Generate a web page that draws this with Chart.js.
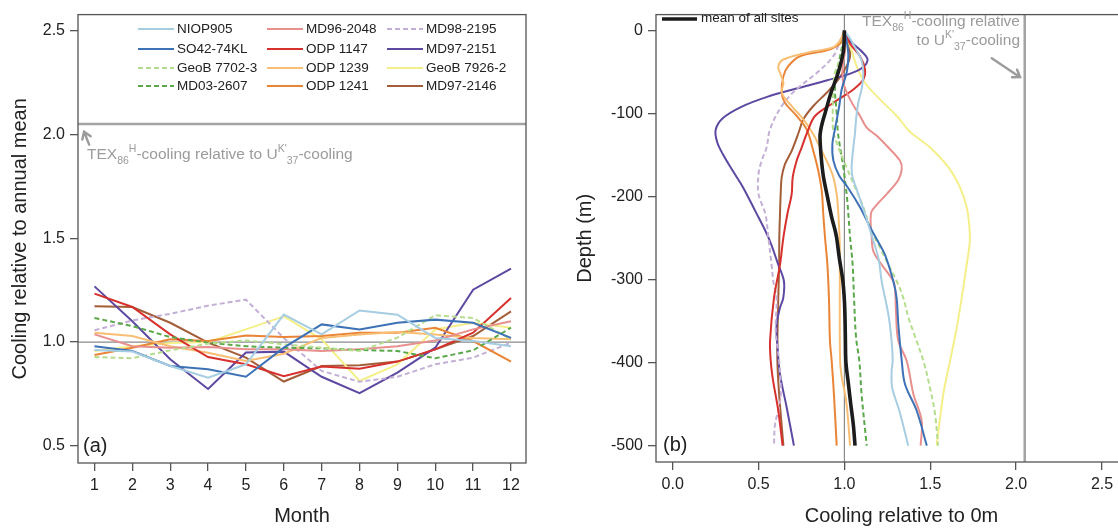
<!DOCTYPE html>
<html>
<head>
<meta charset="utf-8">
<script src="https://cdn.jsdelivr.net/npm/chart.js@4.4.1/dist/chart.umd.min.js"></script>
<style>
html, body { margin: 0; padding: 0; width: 1118px; height: 528px; overflow: hidden; background: #fff;
  font-family: "Liberation Sans", Arial, Helvetica, sans-serif; }
canvas { position: absolute; top: 0; }
#graficoA { left: 0; }
#graficoB { left: 560px; }
.txt { position: absolute; white-space: nowrap; color: #222; }
.ley { font-size: 13.5px; line-height: 16px; }
.gris { color: #9b9b9b; font-size: 15.5px; line-height: 18px; }
.sb { position: relative; font-size: 10.5px; top: 5px; }
.sp { position: relative; font-size: 10.5px; top: -7px; }
.panel { font-size: 20px; line-height: 23px; }
svg.muestra { position: absolute; }
</style>
</head>
<body>
<canvas id="graficoA" width="560" height="528"></canvas>
<canvas id="graficoB" width="590" height="528"></canvas>
<div id="capas"></div>
<script>
// Datos: (a) enfriamiento mensual, (b) perfiles en profundidad

const meses = [1, 2, 3, 4, 5, 6, 7, 8, 9, 10, 11, 12];
const marcasYA = [0.5, 1.0, 1.5, 2.0, 2.5];
const marcasXB = [0.0, 0.5, 1.0, 1.5, 2.0, 2.5];
const marcasYB = [0, -100, -200, -300, -400, -500];
const lineaUnidad = 1.0;
const lineaTex86 = 2.05;

// nombres de sitios (orden de la leyenda, por columnas)
const sitios = ['NIOP905', 'SO42-74KL', 'GeoB 7702-3', 'MD03-2607',
                'MD96-2048', 'ODP 1147', 'ODP 1239', 'ODP 1241',
                'MD98-2195', 'MD97-2151', 'GeoB 7926-2', 'MD97-2146'];

// (a) enfriamiento relativo a la media anual, mes 1..12
const mNIOP905   = [0.962, 0.955, 0.885, 0.829, 0.893, 1.132, 1.037, 1.152, 1.132, 1.020, 1.005, 0.980];
const mSO42      = [0.980, 0.957, 0.885, 0.869, 0.833, 0.973, 1.085, 1.061, 1.093, 1.108, 1.093, 1.020];
const mGeoB7702  = [0.928, 0.922, 0.960, 0.992, 1.008, 0.989, 0.973, 0.957, 1.021, 1.129, 1.116, 1.013];
const mMD03      = [1.116, 1.077, 1.024, 0.997, 0.980, 0.973, 0.970, 0.962, 0.957, 0.922, 0.960, 1.069];
const mMD96      = [1.037, 0.980, 0.973, 0.976, 0.965, 0.965, 0.957, 0.965, 0.980, 1.008, 1.061, 1.100];
const mODP1147   = [1.233, 1.169, 1.037, 0.928, 0.893, 0.836, 0.882, 0.872, 0.906, 0.965, 1.045, 1.212];
const mODP1239   = [1.045, 1.029, 0.980, 0.949, 0.909, 0.944, 1.020, 1.037, 1.049, 1.037, 1.020, 1.013];
const mODP1241   = [0.938, 0.973, 1.013, 1.005, 1.032, 1.024, 1.029, 1.045, 1.045, 1.069, 1.005, 0.906];
const mMD98      = [1.057, 1.104, 1.136, 1.175, 1.204, 1.020, 0.861, 0.809, 0.833, 0.893, 0.925, 0.997];
const mMD97_2151 = [1.268, 1.100, 0.917, 0.774, 0.950, 0.954, 0.833, 0.754, 0.853, 0.973, 1.252, 1.354];
const mGeoB7926  = [0.957, 0.980, 0.995, 1.000, 1.061, 1.124, 1.013, 0.813, 0.893, 1.061, 1.093, 1.069];
const mMD97_2146 = [1.172, 1.169, 1.093, 0.997, 0.925, 0.810, 0.885, 0.888, 0.906, 0.965, 1.029, 1.148];

// (b) perfiles [enfriamiento relativo a 0 m, profundidad en m]
const pNIOP905 = [[1,0],[1.04,-12],[1.071,-24],[1.1,-36],[1.11,-51],[1.1,-71],[1.081,-87],[1.068,-107],[1.062,-123],[1.052,-141],[1.042,-165],[1.048,-177],[1.081,-197],[1.12,-221],[1.159,-247],[1.198,-274],[1.217,-302],[1.256,-342],[1.275,-374],[1.281,-398],[1.275,-410],[1.278,-430],[1.32,-458],[1.372,-500]];
const pSO42 = [[1,0],[1.015,-15],[1.023,-31],[1.013,-51],[0.984,-71],[0.97,-91],[0.945,-119],[0.93,-137],[0.936,-157],[0.97,-175],[1.023,-190],[1.091,-213],[1.15,-237],[1.19,-252],[1.236,-270],[1.285,-302],[1.304,-322],[1.314,-354],[1.334,-398],[1.353,-426],[1.421,-458],[1.48,-500]];
const pGeoB7702 = [[1,0],[0.99,-15],[0.984,-31],[0.945,-51],[0.936,-71],[0.932,-99],[0.936,-122],[0.965,-141],[1.013,-165],[1.062,-189],[1.111,-213],[1.155,-240],[1.208,-262],[1.256,-282],[1.305,-302],[1.343,-322],[1.373,-346],[1.405,-365],[1.46,-398],[1.498,-430],[1.528,-462],[1.545,-500]];
const pMD03 = [[1,0],[0.99,-15],[0.975,-31],[0.955,-51],[0.945,-71],[0.955,-99],[0.962,-122],[0.975,-141],[0.994,-165],[1.013,-197],[1.023,-221],[1.033,-249],[1.048,-282],[1.056,-322],[1.068,-370],[1.087,-398],[1.1,-438],[1.13,-500]];
const pMD96 = [[1,0],[1.004,-24],[0.99,-43],[0.994,-63],[1.033,-83],[1.091,-103],[1.13,-117],[1.19,-127],[1.256,-141],[1.324,-157],[1.334,-167],[1.314,-180],[1.246,-197],[1.188,-210],[1.155,-220],[1.159,-249],[1.169,-266],[1.217,-282],[1.285,-302],[1.295,-312],[1.301,-342],[1.314,-374],[1.363,-398],[1.402,-438],[1.45,-470],[1.444,-500]];
const pODP1147 = [[1,0],[1.033,-16],[1.091,-31],[1.12,-47],[1.11,-59],[1.052,-71],[0.936,-87],[0.829,-103],[0.785,-122],[0.751,-141],[0.722,-157],[0.699,-177],[0.693,-197],[0.668,-221],[0.645,-249],[0.625,-282],[0.59,-322],[0.567,-374],[0.571,-398],[0.582,-418],[0.615,-458],[0.64,-500]];
const pODP1239 = [[1,0],[0.975,-12],[0.936,-20],[0.78,-27],[0.645,-35],[0.615,-43],[0.625,-51],[0.645,-63],[0.635,-75],[0.693,-91],[0.761,-107],[0.819,-125],[0.868,-145],[0.906,-161],[0.936,-177],[0.955,-197],[0.965,-221],[0.973,-260],[0.973,-330],[0.975,-398],[0.985,-418],[1.004,-438],[1.017,-458],[1.033,-500]];
const pODP1241 = [[1,0],[0.99,-8],[0.975,-16],[0.897,-24],[0.741,-31],[0.673,-43],[0.645,-55],[0.635,-75],[0.654,-87],[0.722,-103],[0.78,-119],[0.819,-145],[0.848,-169],[0.868,-193],[0.877,-221],[0.887,-249],[0.901,-282],[0.91,-322],[0.916,-374],[0.926,-398],[0.939,-438],[0.955,-500]];
const pMD98 = [[1,0],[0.97,-15],[0.936,-31],[0.84,-51],[0.72,-71],[0.635,-91],[0.567,-119],[0.547,-141],[0.518,-157],[0.5,-173],[0.5,-197],[0.54,-221],[0.557,-249],[0.576,-282],[0.586,-302],[0.605,-322],[0.6,-362],[0.62,-398],[0.63,-438],[0.615,-458],[0.596,-474],[0.59,-500]];
const pMD97_2151 = [[1,0],[1.02,-10],[1.1,-25],[1.135,-36],[1.08,-48],[0.9,-60],[0.72,-70],[0.55,-80],[0.4,-92],[0.29,-106],[0.25,-120],[0.26,-135],[0.295,-150],[0.35,-169],[0.41,-189],[0.48,-217],[0.557,-249],[0.615,-282],[0.648,-302],[0.644,-322],[0.625,-334],[0.605,-355],[0.61,-380],[0.625,-414],[0.664,-454],[0.706,-500]];
const pGeoB7926 = [[1,0],[1.02,-12],[1.042,-24],[1.071,-43],[1.12,-63],[1.207,-83],[1.305,-103],[1.382,-122],[1.499,-141],[1.606,-165],[1.673,-189],[1.712,-213],[1.728,-237],[1.73,-255],[1.712,-282],[1.683,-322],[1.654,-358],[1.615,-398],[1.576,-438],[1.537,-500]];
const pMD97_2146 = [[1,0],[1.023,-16],[1.033,-31],[1.013,-43],[0.965,-59],[0.897,-75],[0.819,-91],[0.761,-107],[0.735,-122],[0.693,-145],[0.654,-161],[0.635,-177],[0.629,-197],[0.625,-221],[0.621,-249],[0.62,-282],[0.615,-322],[0.61,-370],[0.61,-400],[0.62,-438],[0.645,-500]];
const pMedia = [[1,0],[0.994,-25],[0.965,-50],[0.922,-75],[0.887,-100],[0.873,-110],[0.862,-120],[0.858,-128],[0.864,-150],[0.877,-175],[0.901,-200],[0.926,-225],[0.945,-240],[0.955,-250],[0.971,-275],[0.99,-300],[1.0,-325],[1.004,-350],[1.006,-375],[1.009,-400],[1.023,-425],[1.037,-450],[1.052,-475],[1.062,-500]];

const seriesMensuales = [mNIOP905, mSO42, mGeoB7702, mMD03, mMD96, mODP1147, mODP1239, mODP1241, mMD98, mMD97_2151, mGeoB7926, mMD97_2146];
const perfiles = [pNIOP905, pSO42, pGeoB7702, pMD03, pMD96, pODP1147, pODP1239, pODP1241, pMD98, pMD97_2151, pGeoB7926, pMD97_2146];

// estilos
const colores = ['#a6cde2', '#3d72b6', '#b5dd8e', '#5aa84a', '#e8908e', '#d7312e',
                 '#f8be74', '#ea8437', '#c4b0d6', '#5d48a2', '#f4ef88', '#a35d38'];
const discontinuas = ['GeoB 7702-3', 'MD03-2607', 'MD98-2195'];
const ejeA = { xMin: 0.565, xMax: 12.396, yMin: 0.418, yMax: 2.576 };
const ejeB = { xMin: -0.097, xMax: 2.762, yMin: -519.7, yMax: 19.1 };
const grisRef = '#a3a3a3';
const grisTexto = '#9b9b9b';

Chart.defaults.font.family = '"Liberation Sans", Arial, Helvetica, sans-serif';
Chart.defaults.color = '#222';

// Marco del gráfico y flecha de anotación
const marco = {
    id: 'marco',
    afterDraw(chart, args, opts) {
        const { ctx, chartArea: a } = chart;
        ctx.save();
        ctx.strokeStyle = '#555';
        ctx.lineWidth = 1.3;
        ctx.strokeRect(a.left, a.top, a.right - a.left, a.bottom - a.top);
        if (opts.flecha) {
            const sx = chart.scales.x, sy = chart.scales.y;
            const [x0, y0, x1, y1] = [sx.getPixelForValue(opts.flecha[0]), sy.getPixelForValue(opts.flecha[1]),
                                      sx.getPixelForValue(opts.flecha[2]), sy.getPixelForValue(opts.flecha[3])];
            const ang = Math.atan2(y1 - y0, x1 - x0);
            ctx.strokeStyle = grisTexto;
            ctx.lineWidth = 2.4;
            ctx.lineCap = 'round';
            ctx.beginPath();
            ctx.moveTo(x0, y0);
            ctx.lineTo(x1, y1);
            ctx.moveTo(x1 - 8 * Math.cos(ang - 0.6), y1 - 8 * Math.sin(ang - 0.6));
            ctx.lineTo(x1, y1);
            ctx.lineTo(x1 - 8 * Math.cos(ang + 0.6), y1 - 8 * Math.sin(ang + 0.6));
            ctx.stroke();
        }
        ctx.restore();
    }
};

function ejeComun(min, max, marcas, formato, titulo, tamano, padTitulo) {
    return {
        type: 'linear', min: min, max: max,
        afterBuildTicks: s => { s.ticks = marcas.map(v => ({ value: v })); },
        afterFit: s => { if (s.isHorizontal()) s.height = tamano; else s.width = tamano; },
        grid: { drawOnChartArea: false, drawTicks: true, tickLength: 8, color: '#555', lineWidth: 1.3 },
        border: { display: false },
        ticks: { font: { size: 16 }, color: '#222', padding: 5, maxRotation: 0, autoSkip: false, callback: formato },
        title: { display: true, text: titulo, font: { size: 20 }, color: '#222', padding: padTitulo }
    };
}

// ---- Panel (a) ----
const datosA = sitios.map((nombre, i) => ({
    label: nombre,
    data: meses.map((m, j) => ({ x: m, y: seriesMensuales[i][j] })),
    borderColor: colores[i],
    borderWidth: 2,
    borderDash: discontinuas.includes(nombre) ? [5, 3] : [],
    pointRadius: 0,
    showLine: true,
    tension: 0
}));
datosA.push({ label: 'ref1', data: [{ x: ejeA.xMin, y: lineaUnidad }, { x: ejeA.xMax, y: lineaUnidad }],
              borderColor: '#8a8a8a', borderWidth: 1.2, pointRadius: 0, showLine: true });
datosA.push({ label: 'ref2', data: [{ x: ejeA.xMin, y: lineaTex86 }, { x: ejeA.xMax, y: lineaTex86 }],
              borderColor: grisRef, borderWidth: 2.5, pointRadius: 0, showLine: true });

new Chart(document.getElementById('graficoA'), {
    type: 'scatter',
    data: { datasets: datosA },
    options: {
        responsive: false, animation: false, devicePixelRatio: 1,
        layout: { padding: { left: 0, right: 34, top: 11, bottom: 0 } },
        plugins: { legend: { display: false }, tooltip: { enabled: false },
                   marco: { flecha: [0.86, 1.95, 0.725, 2.012] } },
        scales: {
            x: ejeComun(ejeA.xMin, ejeA.xMax, meses, v => String(v), 'Month', 65, { top: 0, bottom: 0 }),
            y: ejeComun(ejeA.yMin, ejeA.yMax, marcasYA, v => v.toFixed(1), 'Cooling relative to annual mean', 78, { top: 8, bottom: 0 })
        }
    },
    plugins: [marco]
});

// ---- Panel (b) ----
const datosB = [{
    label: 'mean of all sites',
    data: pMedia.map(([x, y]) => ({ x, y })),
    borderColor: '#1c1c1c', borderWidth: 3.6, pointRadius: 0, showLine: true, tension: 0.35
}];
sitios.forEach((nombre, i) => {
    datosB.push({
        label: nombre,
        data: perfiles[i].map(([x, y]) => ({ x, y })),
        borderColor: colores[i],
        borderWidth: 2,
        borderDash: discontinuas.includes(nombre) ? [5, 3] : [],
        pointRadius: 0, showLine: true, tension: 0.35
    });
});
datosB.push({ label: 'ref1', data: [{ x: lineaUnidad, y: ejeB.yMin }, { x: lineaUnidad, y: ejeB.yMax }],
              borderColor: '#8a8a8a', borderWidth: 1.2, pointRadius: 0, showLine: true });
datosB.push({ label: 'ref2', data: [{ x: lineaTex86, y: ejeB.yMin }, { x: lineaTex86, y: ejeB.yMax }],
              borderColor: grisRef, borderWidth: 2.5, pointRadius: 0, showLine: true });

new Chart(document.getElementById('graficoB'), {
    type: 'scatter',
    data: { datasets: datosB },
    options: {
        responsive: false, animation: false, devicePixelRatio: 1,
        layout: { padding: { left: 0, right: 3, top: 11, bottom: 0 } },
        plugins: { legend: { display: false }, tooltip: { enabled: false },
                   marco: { flecha: [1.858, -33.5, 2.023, -56.2] } },
        scales: {
            x: ejeComun(ejeB.xMin, ejeB.xMax, marcasXB, v => v.toFixed(1), 'Cooling relative to 0m', 66, { top: 0, bottom: 0 }),
            y: ejeComun(ejeB.yMin, ejeB.yMax, marcasYB, v => String(v), 'Depth (m)', 96, { top: 13, bottom: 0 })
        }
    },
    plugins: [marco]
});

// ---- Leyendas y anotaciones (texto HTML) ----
const capas = document.getElementById('capas');
function muestra(x, y, ancho, color, grosor, discontinua) {
    const ns = 'http://www.w3.org/2000/svg';
    const svg = document.createElementNS(ns, 'svg');
    svg.setAttribute('class', 'muestra');
    svg.setAttribute('width', ancho);
    svg.setAttribute('height', 6);
    svg.style.left = x + 'px';
    svg.style.top = (y - 3) + 'px';
    const l = document.createElementNS(ns, 'line');
    l.setAttribute('x1', 0); l.setAttribute('y1', 3);
    l.setAttribute('x2', ancho); l.setAttribute('y2', 3);
    l.setAttribute('stroke', color);
    l.setAttribute('stroke-width', grosor);
    if (discontinua) l.setAttribute('stroke-dasharray', '5 3');
    svg.appendChild(l);
    capas.appendChild(svg);
}
function texto(html, clase, estilo) {
    const d = document.createElement('div');
    d.className = 'txt ' + clase;
    d.innerHTML = html;
    Object.assign(d.style, estilo);
    capas.appendChild(d);
}

const colLinea = [138, 267, 387];
const filaY = [29, 48.5, 67.5, 86];
sitios.forEach((nombre, i) => {
    const c = Math.floor(i / 4), f = i % 4;
    muestra(colLinea[c], filaY[f], 36, colores[i], 2.2, discontinuas.includes(nombre));
    texto(nombre, 'ley', { left: (colLinea[c] + 39) + 'px', top: (filaY[f] - 8) + 'px' });
});

const notaTex = 'TEX<span class="sb">86</span><span class="sp">H</span>-cooling relative to U<span class="sp">K\'</span><span class="sb">37</span>-cooling';
texto(notaTex, 'gris', { left: '87px', top: '145px' });

muestra(662, 18.5, 35, '#1c1c1c', 3.4, false);
texto('mean of all sites', 'ley', { left: '701px', top: '10px' });
texto('TEX<span class="sb">86</span><span class="sp">H</span>-cooling relative', 'gris',
      { right: '98px', top: '12px', textAlign: 'right' });
texto('to U<span class="sp">K\'</span><span class="sb">37</span>-cooling', 'gris',
      { right: '98px', top: '31px', textAlign: 'right' });

texto('(a)', 'panel', { left: '83px', top: '434px' });
texto('(b)', 'panel', { left: '663px', top: '433px' });
</script>
</body>
</html>
